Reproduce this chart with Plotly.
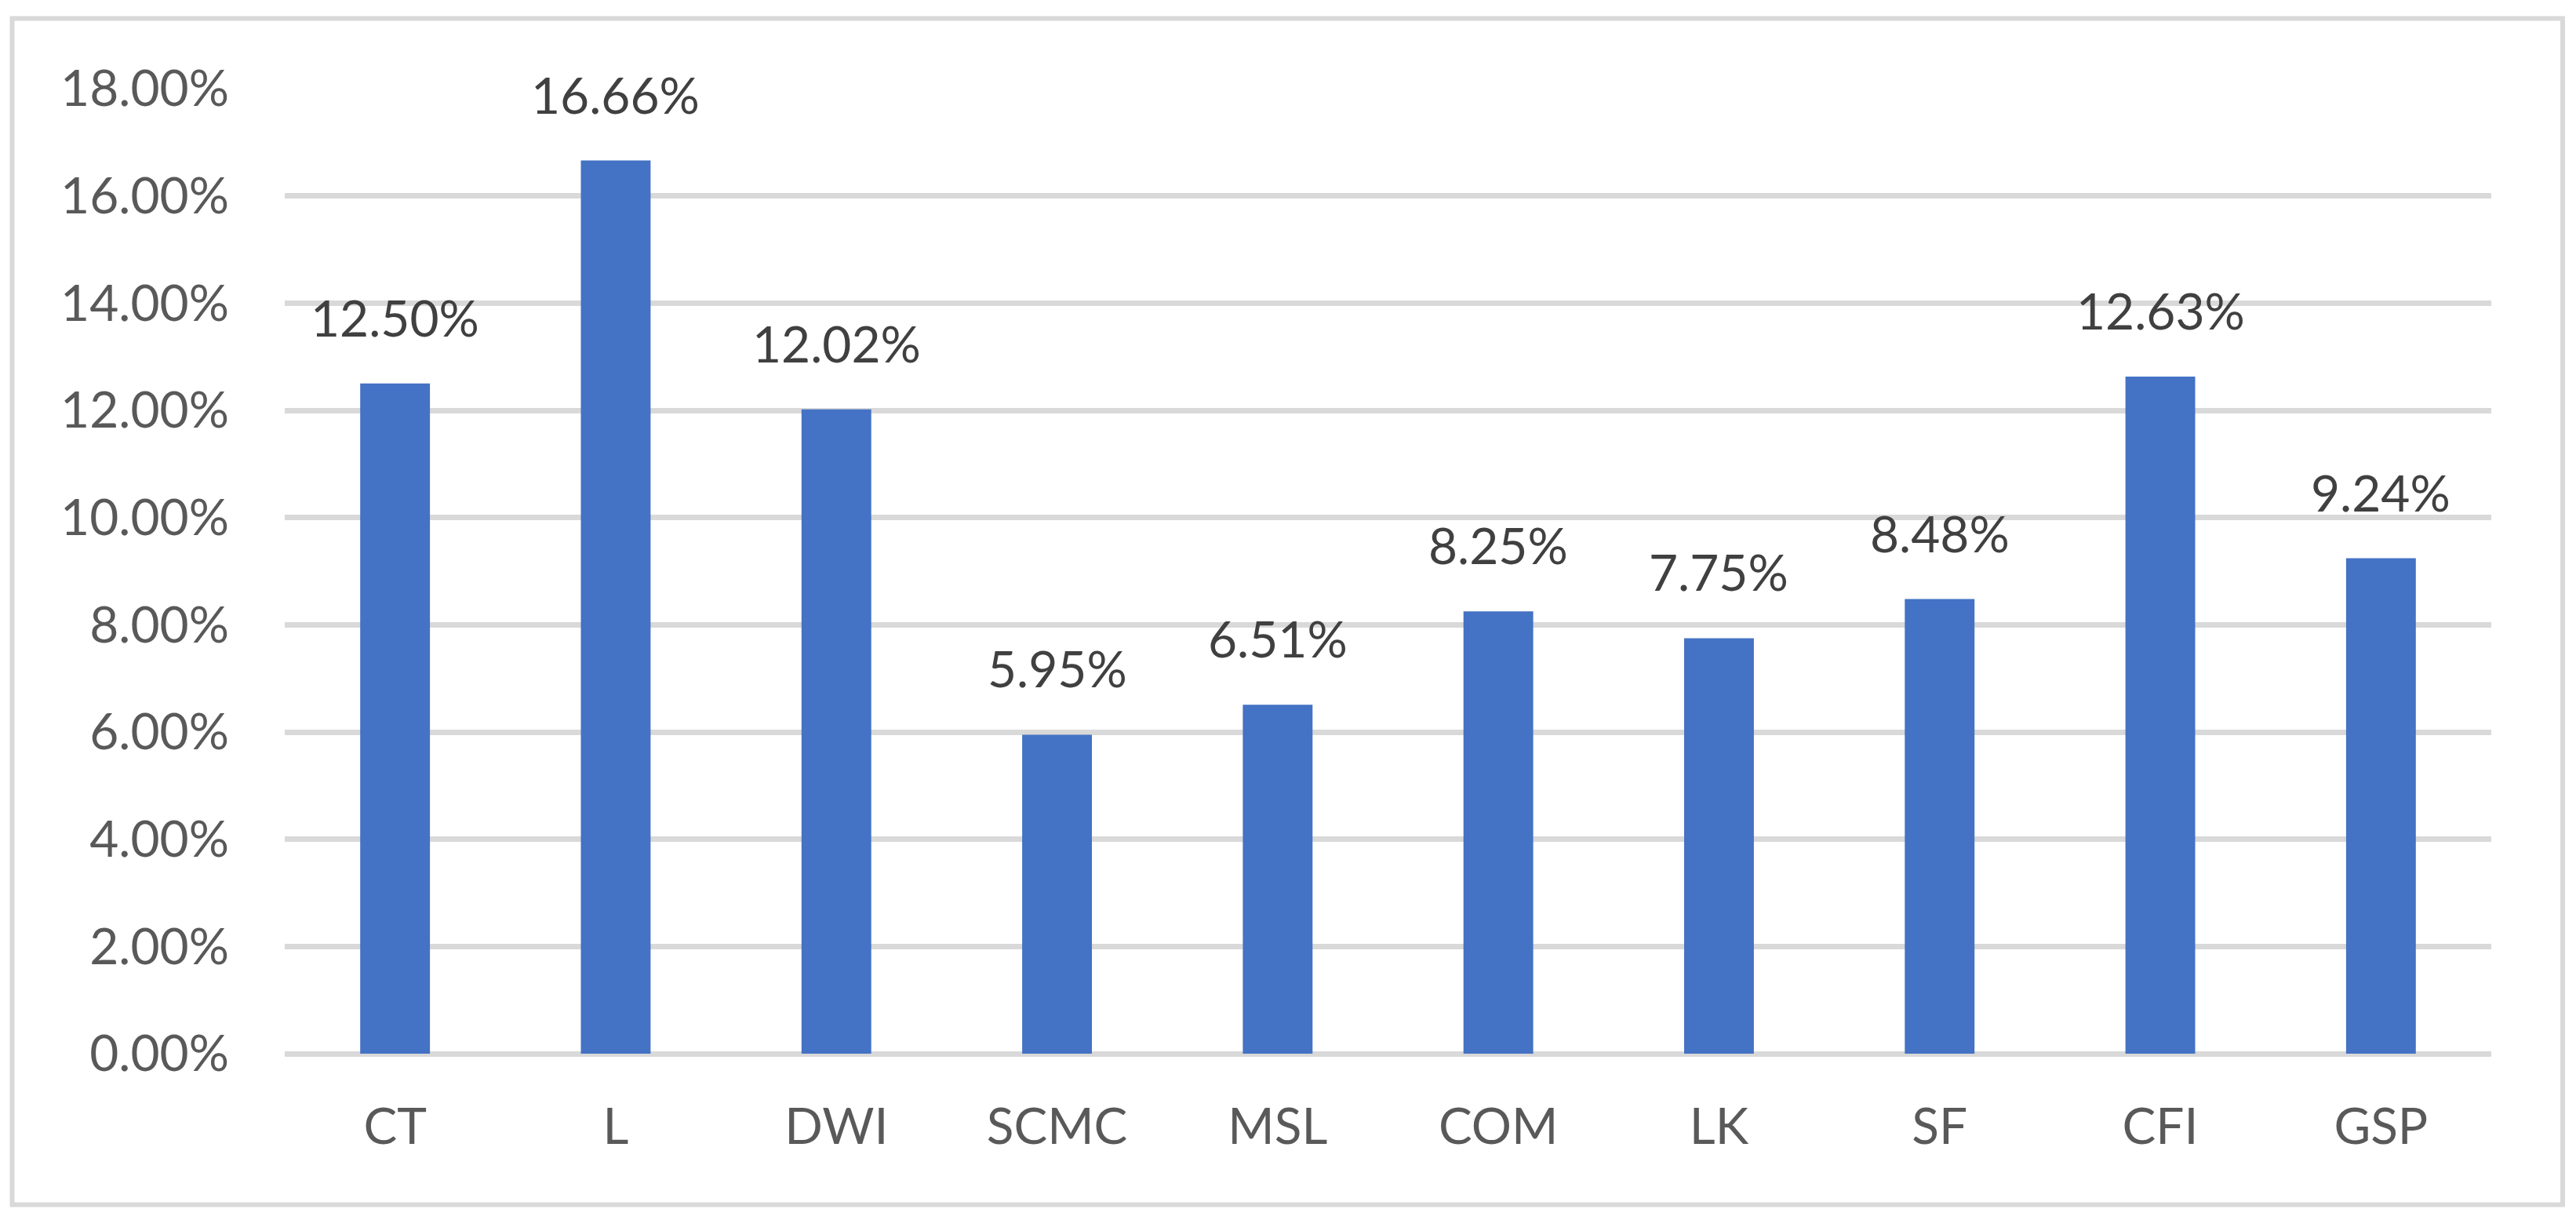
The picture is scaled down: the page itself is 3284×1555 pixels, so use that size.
import plotly.graph_objects as go

categories = ["CT", "L", "DWI", "SCMC", "MSL", "COM", "LK", "SF", "CFI", "GSP"]
values = [0.1250, 0.1666, 0.1202, 0.0595, 0.0651, 0.0825, 0.0775, 0.0848, 0.1263, 0.0924]
tick_vals = [0.00, 0.02, 0.04, 0.06, 0.08, 0.10, 0.12, 0.14, 0.16, 0.18]
tick_text = ["0.00%", "2.00%", "4.00%", "6.00%", "8.00%", "10.00%", "12.00%", "14.00%", "16.00%", "18.00%"]
labels = ["{:.2%}".format(v) for v in values]

FONT = "Lato"
W, H = 3284, 1555
OFF = 8  # page body margin offset
L, R, T, B = 363 - OFF, 108 + OFF, 113 - OFF, 211.5 + OFF
pw, ph = W - L - R, H - T - B

fig = go.Figure()
fig.add_trace(go.Bar(
    x=categories, y=values,
    marker=dict(color="#4472C4", line=dict(width=0)),
    width=0.316,
    hoverinfo="skip",
))

annotations = []
for c, v, t in zip(categories, values, labels):
    annotations.append(dict(
        x=c, y=v, xref="x", yref="y", text=t, showarrow=False,
        yanchor="bottom", xanchor="center", yshift=44,
        font=dict(family=FONT, size=64, color="#404040"),
    ))

def px_x(p):
    return (p - OFF - L) / pw

def px_y(p):
    return (H - B - (p - OFF)) / ph

shapes = [dict(
    type="rect", xref="paper", yref="paper",
    x0=px_x(15.5), x1=px_x(3267), y0=px_y(1536), y1=px_y(23.5),
    line=dict(color="#D9D9D9", width=6), fillcolor="rgba(0,0,0,0)", layer="below",
)]

fig.update_layout(
    width=W, height=H,
    margin=dict(l=L, r=R, t=T, b=B, pad=0),
    paper_bgcolor="white", plot_bgcolor="white",
    showlegend=False,
    annotations=annotations,
    shapes=shapes,
    font=dict(family=FONT, size=64, color="#595959"),
    xaxis=dict(
        range=[-0.5, 9.5], showgrid=False, showline=False, zeroline=False,
        ticks="", tickfont=dict(family=FONT, size=64, color="#595959"),
        ticklabelstandoff=50, fixedrange=True,
    ),
    yaxis=dict(
        range=[0, 0.18], tickvals=tick_vals, ticktext=tick_text,
        showgrid=True, gridcolor="#D9D9D9", gridwidth=7,
        zeroline=True, zerolinecolor="#D9D9D9", zerolinewidth=7,
        showline=False, ticks="",
        tickfont=dict(family=FONT, size=64, color="#595959"),
        ticklabelstandoff=70, fixedrange=True,
    ),
)

fig.write_html("out.html")
